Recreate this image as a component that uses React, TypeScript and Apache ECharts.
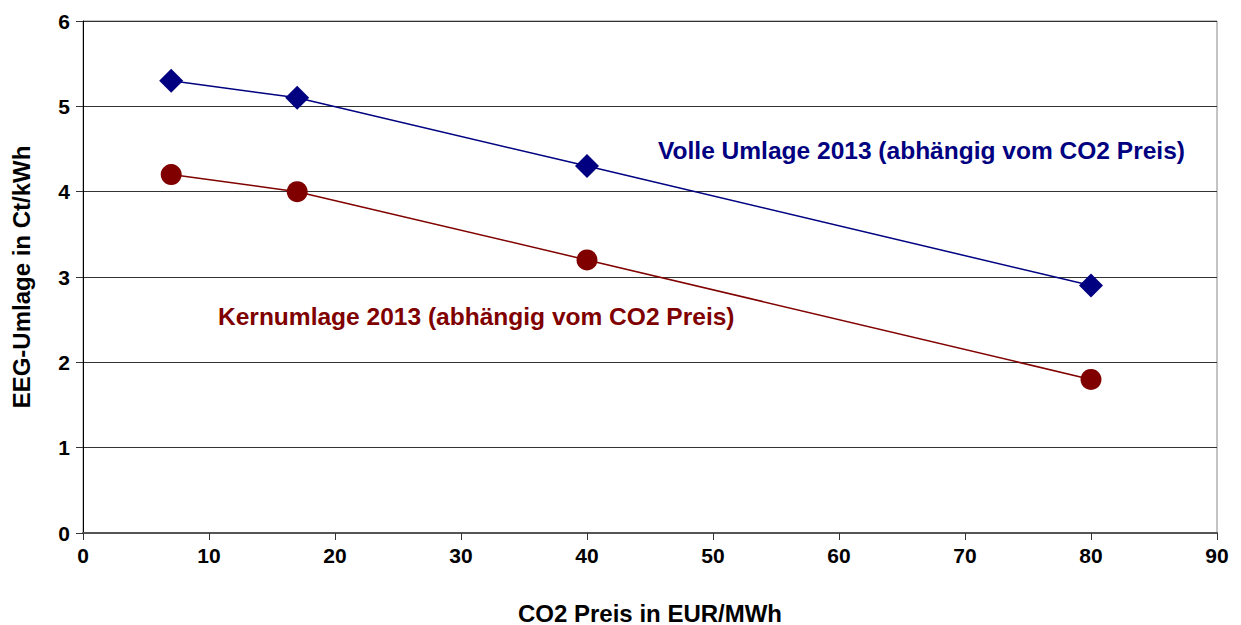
import React, { useEffect, useRef } from "react";
import * as echarts from "echarts";

const co2Prices = [7, 17, 40, 80];
const volleUmlage = [5.3, 5.1, 4.3, 2.9];
const kernUmlage = [4.2, 4.0, 3.2, 1.8];
const volleLabel = "Volle Umlage 2013 (abhängig vom CO2 Preis)";
const kernLabel = "Kernumlage 2013 (abhängig vom CO2 Preis)";
const xName = "CO2 Preis in EUR/MWh";
const yName = "EEG-Umlage in Ct/kWh";

const FONT = "'Liberation Sans', Arial, sans-serif";

export default function App() {
  const ref = useRef<HTMLDivElement>(null);
  useEffect(() => {
    if (!ref.current) return;
    const chart = echarts.init(ref.current, undefined, { renderer: "svg" });
    chart.setOption({
      animation: false,
      backgroundColor: "#fff",
      grid: {
        left: 83,
        right: 24,
        top: 21,
        bottom: 92,
        outerBoundsMode: "none",
        containLabel: false,
        show: true,
        borderColor: "#888",
        borderWidth: 1,
      },
      xAxis: {
        type: "value",
        min: 0,
        max: 90,
        interval: 10,
        name: xName,
        nameLocation: "middle",
        nameGap: 68,
        nameTextStyle: { fontFamily: FONT, fontWeight: "bold", fontSize: 24, color: "#000" },
        axisLine: { show: true, lineStyle: { color: "#555", width: 2 } },
        axisTick: { show: true, length: 7, lineStyle: { color: "#333" } },
        axisLabel: { fontFamily: FONT, fontWeight: "bold", fontSize: 21, color: "#000", margin: 12 },
        splitLine: { show: false },
      },
      yAxis: {
        type: "value",
        min: 0,
        max: 6,
        interval: 1,
        name: yName,
        nameLocation: "middle",
        nameGap: 50,
        nameTextStyle: { fontFamily: FONT, fontWeight: "bold", fontSize: 24, color: "#000" },
        axisLine: { show: true, lineStyle: { color: "#000", width: 1 } },
        axisTick: { show: true, length: 7, lineStyle: { color: "#333" } },
        axisLabel: { fontFamily: FONT, fontWeight: "bold", fontSize: 21, color: "#000", margin: 13 },
        splitLine: { show: true, lineStyle: { color: "#333", width: 1 } },
      },
      series: [
        {
          type: "line",
          data: co2Prices.map((x, i) => [x, volleUmlage[i]]),
          symbol: "diamond",
          symbolSize: 24,
          itemStyle: { color: "#000080" },
          lineStyle: { color: "#000080", width: 1.5 },
        },
        {
          type: "line",
          data: co2Prices.map((x, i) => [x, kernUmlage[i]]),
          symbol: "circle",
          symbolSize: 21,
          itemStyle: { color: "#800000" },
          lineStyle: { color: "#800000", width: 1.5 },
        },
      ],
      graphic: [
        {
          type: "text",
          x: 658,
          y: 139,
          scaleX: 1.067,
          style: {
            text: volleLabel,
            fill: "#000080",
            font: `bold 23px ${FONT}`,
          },
        },
        {
          type: "text",
          x: 218,
          y: 305,
          scaleX: 1.067,
          style: {
            text: kernLabel,
            fill: "#800000",
            font: `bold 23px ${FONT}`,
          },
        },
      ],
    });
    return () => chart.dispose();
  }, []);
  return <div ref={ref} style={{ width: 1241, height: 625, position: "absolute", left: 0, top: 0 }} />;
}
